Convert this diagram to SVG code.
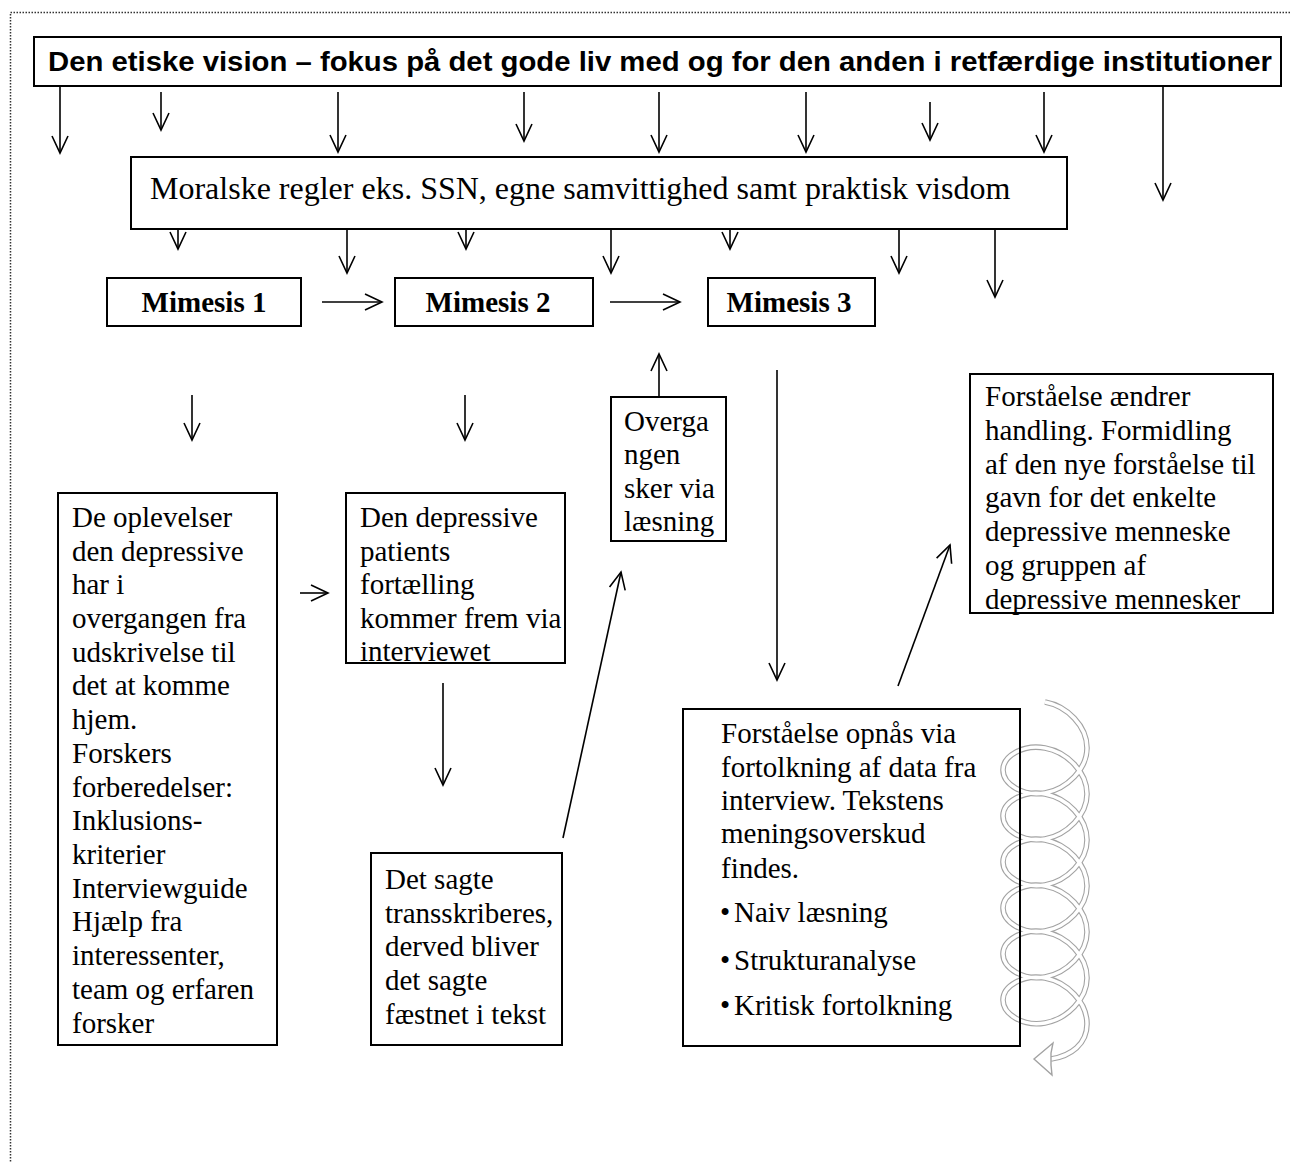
<svg xmlns="http://www.w3.org/2000/svg" width="1290" height="1162" viewBox="0 0 1290 1162">
<style>
.box{fill:none;stroke:#000;stroke-width:2}
.t{font-family:"Liberation Serif","Times New Roman",serif;font-size:29px;fill:#000}
.b{font-weight:bold}
.title{font-family:"Liberation Sans",Arial,sans-serif;font-weight:bold;font-size:28px;fill:#000}
.c line{stroke:#000;stroke-width:1.6;marker-end:url(#ah)}
.spo{fill:none;stroke:#a3a3a3;stroke-width:5.6}
.spi{fill:none;stroke:#fff;stroke-width:3.4}
</style>
<defs>
<marker id="ah" markerUnits="userSpaceOnUse" viewBox="0 0 18 18" markerWidth="18" markerHeight="18" refX="17" refY="9" orient="auto" overflow="visible">
<path d="M0,1 L17,9 L0,17" fill="none" stroke="#000" stroke-width="1.6"/>
</marker>
<path id="sp" d="M1045,702 C1067,706 1087,726 1087,748 C1087,769 1067,789 1045,793 C1023,797 1003,784 1003,770 C1003,756 1023,744 1045,748
C1067,752 1087,772 1087,794 C1087,815 1067,835 1045,839 C1023,843 1003,830 1003,816 C1003,802 1023,790 1045,794
C1067,798 1087,818 1087,840 C1087,861 1067,881 1045,885 C1023,889 1003,876 1003,862 C1003,848 1023,836 1045,840
C1067,844 1087,864 1087,886 C1087,907 1067,927 1045,931 C1023,935 1003,922 1003,908 C1003,894 1023,882 1045,886
C1067,890 1087,910 1087,932 C1087,953 1067,973 1045,977 C1023,981 1003,968 1003,954 C1003,940 1023,928 1045,932
C1067,936 1087,956 1087,978 C1087,999 1067,1019 1045,1023 C1023,1027 1003,1014 1003,1000 C1003,986 1023,974 1045,978
C1067,982 1087,1002 1087,1024 C1087,1044 1071,1056 1051,1059"/>
</defs>
<rect x="10.5" y="12.5" width="1400" height="1300" fill="none" stroke="#333" stroke-width="1.5" stroke-dasharray="1.5 1.5"/>

<g id="spiral">
<use href="#sp" class="spo"/>
<use href="#sp" class="spi"/>
<polygon points="1034,1059 1053,1043 1051,1053 1051,1065 1052,1075" fill="#fff" stroke="#a3a3a3" stroke-width="1.4"/>
</g>

<g id="n-vision">
<rect class="box" x="34" y="37" width="1247" height="49"/>
<text class="title" x="48" y="71" textLength="1224" lengthAdjust="spacingAndGlyphs">Den etiske vision – fokus på det gode liv med og for den anden i retfærdige institutioner</text>
</g>
<g id="n-moral">
<rect class="box" x="131" y="157" width="936" height="72"/>
<text class="t" x="150" y="199" style="font-size:32px">Moralske regler eks. SSN, egne samvittighed samt praktisk visdom</text>
</g>
<g id="n-m1">
<rect class="box" x="107" y="278" width="194" height="48"/>
<text class="t b" x="204" y="312" text-anchor="middle">Mimesis 1</text>
</g>
<g id="n-m2">
<rect class="box" x="395" y="278" width="198" height="48"/>
<text class="t b" x="488" y="312" text-anchor="middle">Mimesis 2</text>
</g>
<g id="n-m3">
<rect class="box" x="708" y="278" width="167" height="48"/>
<text class="t b" x="789" y="312" text-anchor="middle">Mimesis 3</text>
</g>
<g id="n-oplevelser">
<rect class="box" x="58" y="493" width="219" height="552"/>
<text class="t"><tspan x="72" y="527">De oplevelser</tspan><tspan x="72" y="561">den depressive</tspan><tspan x="72" y="594">har i</tspan><tspan x="72" y="628">overgangen fra</tspan><tspan x="72" y="662">udskrivelse til</tspan><tspan x="72" y="695">det at komme</tspan><tspan x="72" y="729">hjem.</tspan><tspan x="72" y="763">Forskers</tspan><tspan x="72" y="797">forberedelser:</tspan><tspan x="72" y="830">Inklusions-</tspan><tspan x="72" y="864">kriterier</tspan><tspan x="72" y="898">Interviewguide</tspan><tspan x="72" y="931">Hjælp fra</tspan><tspan x="72" y="965">interessenter,</tspan><tspan x="72" y="999">team og erfaren</tspan><tspan x="72" y="1033">forsker</tspan></text>
</g>
<g id="n-fortaelling">
<rect class="box" x="346" y="493" width="219" height="170"/>
<text class="t"><tspan x="360" y="527">Den depressive</tspan><tspan x="360" y="561">patients</tspan><tspan x="360" y="594">fortælling</tspan><tspan x="360" y="628">kommer frem via</tspan><tspan x="360" y="661">interviewet</tspan></text>
</g>
<g id="n-sagte">
<rect class="box" x="371" y="853" width="191" height="192"/>
<text class="t"><tspan x="385" y="889">Det sagte</tspan><tspan x="385" y="923">transskriberes,</tspan><tspan x="385" y="956">derved bliver</tspan><tspan x="385" y="990">det sagte</tspan><tspan x="385" y="1024">fæstnet i tekst</tspan></text>
</g>
<g id="n-overgangen">
<rect class="box" x="611" y="397" width="115" height="144"/>
<text class="t"><tspan x="624" y="431">Overga</tspan><tspan x="624" y="464">ngen</tspan><tspan x="624" y="498">sker via</tspan><tspan x="624" y="531">læsning</tspan></text>
</g>
<g id="n-forstaaelse-opnaas">
<rect class="box" x="683" y="709" width="337" height="337"/>
<text class="t"><tspan x="721" y="743">Forståelse opnås via</tspan><tspan x="721" y="777">fortolkning af data fra</tspan><tspan x="721" y="810">interview. Tekstens</tspan><tspan x="721" y="843">meningsoverskud</tspan><tspan x="721" y="878">findes.</tspan></text>
<text class="t"><tspan x="720" y="922">•</tspan><tspan x="734" y="922">Naiv læsning</tspan><tspan x="720" y="970">•</tspan><tspan x="734" y="970">Strukturanalyse</tspan><tspan x="720" y="1015">•</tspan><tspan x="734" y="1015">Kritisk fortolkning</tspan></text>
</g>
<g id="n-forstaaelse-aendrer">
<rect class="box" x="970" y="374" width="303" height="239"/>
<text class="t"><tspan x="985" y="406">Forståelse ændrer</tspan><tspan x="985" y="440">handling. Formidling</tspan><tspan x="985" y="474">af den nye forståelse til</tspan><tspan x="985" y="507">gavn for det enkelte</tspan><tspan x="985" y="541">depressive menneske</tspan><tspan x="985" y="575">og gruppen af</tspan><tspan x="985" y="609">depressive mennesker</tspan></text>
</g>

<g id="connectors" class="c">
<line x1="60" y1="86" x2="60" y2="153"/>
<line x1="161" y1="92" x2="161" y2="130"/>
<line x1="338" y1="92" x2="338" y2="152"/>
<line x1="524" y1="92" x2="524" y2="141"/>
<line x1="659" y1="92" x2="659" y2="152"/>
<line x1="806" y1="92" x2="806" y2="152"/>
<line x1="930" y1="102" x2="930" y2="140"/>
<line x1="1044" y1="92" x2="1044" y2="152"/>
<line x1="1163" y1="86" x2="1163" y2="200"/>
<line x1="178" y1="229" x2="178" y2="249"/>
<line x1="347" y1="229" x2="347" y2="273"/>
<line x1="466" y1="229" x2="466" y2="249"/>
<line x1="611" y1="229" x2="611" y2="273"/>
<line x1="730" y1="229" x2="730" y2="249"/>
<line x1="899" y1="229" x2="899" y2="273"/>
<line x1="995" y1="229" x2="995" y2="297"/>
<line x1="322" y1="302" x2="382" y2="302"/>
<line x1="610" y1="302" x2="680" y2="302"/>
<line x1="192" y1="395" x2="192" y2="440"/>
<line x1="465" y1="395" x2="465" y2="440"/>
<line x1="300" y1="593" x2="328" y2="593"/>
<line x1="443" y1="683" x2="443" y2="785"/>
<line x1="563" y1="838" x2="621" y2="572"/>
<line x1="659" y1="397" x2="659" y2="354"/>
<line x1="777" y1="370" x2="777" y2="680"/>
<line x1="898" y1="686" x2="950" y2="545"/>
</g>
</svg>
